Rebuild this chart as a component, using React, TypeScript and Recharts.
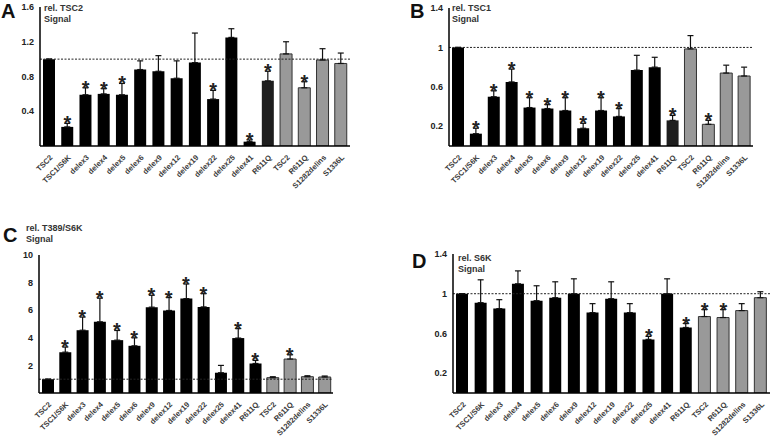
import React from 'react';
import { ComposedChart, Bar, Line, XAxis, YAxis, ReferenceLine, ErrorBar, Cell } from 'recharts';

const CATEGORIES = ['TSC2', 'TSC1/S6K', 'delex3', 'delex4', 'delex5', 'delex6', 'delex9', 'delex12', 'delex19', 'delex22', 'delex25', 'delex41', 'R611Q', 'TSC2', 'R611Q', 'S1282delins', 'S1336L'];

// panel A: rel. TSC2 signal (mean, top of error bar, significance)
const TSC2_MEAN = [1.0, 0.22, 0.59, 0.6, 0.59, 0.88, 0.86, 0.78, 0.96, 0.54, 1.25, 0.05, 0.75, 1.06, 0.67, 0.99, 0.95];
const TSC2_TOP = [1.0, 0.26, 0.67, 0.66, 0.72, 0.98, 1.04, 0.98, 1.3, 0.64, 1.35, 0.07, 0.86, 1.2, 0.74, 1.12, 1.07];
const TSC2_SIG = [0, 1, 1, 1, 1, 0, 0, 0, 0, 1, 0, 1, 1, 0, 1, 0, 0];

// panel B: rel. TSC1 signal
const TSC1_MEAN = [1.0, 0.125, 0.5, 0.65, 0.39, 0.38, 0.36, 0.18, 0.36, 0.3, 0.77, 0.8, 0.26, 0.985, 0.22, 0.74, 0.71];
const TSC1_TOP = [1.0, 0.18, 0.56, 0.78, 0.49, 0.42, 0.49, 0.23, 0.49, 0.38, 0.92, 0.9, 0.31, 1.12, 0.26, 0.82, 0.8];
const TSC1_SIG = [0, 1, 1, 1, 1, 1, 1, 1, 1, 1, 0, 0, 1, 0, 1, 0, 0];

// panel C: rel. T389/S6K signal
const T389_MEAN = [1.0, 2.96, 4.55, 5.16, 3.83, 3.42, 6.22, 5.98, 6.84, 6.24, 1.47, 3.98, 2.14, 1.11, 2.46, 1.18, 1.16];
const T389_TOP = [1.0, 3.33, 5.5, 6.87, 4.53, 4.0, 7.08, 6.92, 7.9, 7.2, 2.0, 4.67, 2.36, 1.18, 2.77, 1.25, 1.23];
const T389_SIG = [0, 1, 1, 1, 1, 1, 1, 1, 1, 1, 0, 1, 1, 0, 1, 0, 0];

// panel D: rel. S6K signal
const S6K_MEAN = [1.0, 0.91, 0.85, 1.1, 0.93, 0.96, 1.0, 0.81, 0.95, 0.81, 0.54, 1.0, 0.66, 0.77, 0.76, 0.83, 0.96];
const S6K_TOP = [1.0, 1.14, 0.94, 1.23, 1.08, 1.12, 1.15, 0.9, 1.12, 0.9, 0.57, 1.15, 0.7, 0.84, 0.84, 0.9, 1.02];
const S6K_SIG = [0, 0, 0, 0, 0, 0, 0, 0, 0, 0, 1, 0, 1, 1, 1, 0, 0];

const FONT = '"Liberation Sans", Arial, sans-serif';

function barFill(i: number, darkR611Q: boolean) {
  if (i >= 13) return '#999999';
  if (i === 12 && darkR611Q) return '#1e1e1e';
  return '#000000';
}

const XTick = (props: any) => {
  const { x, y, payload } = props;
  const tx = x + 4;
  const ty = y + 4;
  return (
    <text x={tx} y={ty} transform={`rotate(-45 ${tx} ${ty})`} textAnchor="end" fontSize={7.6} fontWeight="bold" fill="#3a3a3a" fontFamily={FONT}>
      {payload.value}
    </text>
  );
};

const Star = (props: any) => {
  const { cx, cy, payload, index } = props;
  if (payload.star == null || cy == null) return <g key={`s-${index}`} />;
  return (
    <text key={`s-${index}`} x={cx} y={cy + 7} textAnchor="middle" fontSize={20} fontWeight="bold" fill="#222" fontFamily={FONT}>
      *
    </text>
  );
};

type PanelProps = {
  letter: string;
  title: string;
  mean: number[];
  top: number[];
  sig: number[];
  domainMax: number;
  ticks: number[];
  left: number;
  top0: number;
  width: number;
  height: number;
  margin: { top: number; right: number; bottom: number; left: number };
  yWidth: number;
  darkR611Q: boolean;
  letterPos: [number, number];
  titlePos: [number, number];
};

function Panel(p: PanelProps) {
  const data = CATEGORIES.map((name, i) => ({
    name,
    value: p.mean[i],
    err: [0, Math.max(0, p.top[i] - p.mean[i])],
    star: p.sig[i] ? p.top[i] : null,
  }));
  return (
    <div style={{ position: 'absolute', left: p.left, top: p.top0, width: p.width, height: p.height }}>
      <ComposedChart width={p.width} height={p.height} data={data} margin={p.margin}>
        <XAxis dataKey="name" interval={0} tick={<XTick />} tickLine={false} axisLine={{ stroke: '#000', strokeWidth: 1.5 }} height={50} />
        <YAxis
          domain={[0, p.domainMax]}
          ticks={p.ticks}
          width={p.yWidth}
          tickLine={false}
          tickSize={0}
          tickMargin={6}
          axisLine={{ stroke: '#000', strokeWidth: 1.5 }}
          tick={{ fontSize: 9, fontWeight: 'bold', fill: '#222', fontFamily: FONT }}
          allowDataOverflow
        />
        <ReferenceLine y={1} stroke="#222" strokeDasharray="2 1.5" strokeWidth={1} />
        <Bar dataKey="value" barSize={12} isAnimationActive={false}>
          {data.map((_, i) => (
            <Cell key={`c-${i}`} fill={barFill(i, p.darkR611Q)} stroke={i >= 13 ? '#333' : 'none'} strokeWidth={1} />
          ))}
          <ErrorBar dataKey="err" width={3} stroke="#111" strokeWidth={1.2} />
        </Bar>
        <Line dataKey="star" stroke="none" isAnimationActive={false} dot={<Star />} activeDot={false} connectNulls={false} />
      </ComposedChart>
      <div style={{ position: 'absolute', left: p.letterPos[0], top: p.letterPos[1], fontFamily: FONT, fontWeight: 'bold', fontSize: 20, color: '#111' }}>
        {p.letter}
      </div>
      <div style={{ position: 'absolute', left: p.titlePos[0], top: p.titlePos[1], fontFamily: FONT, fontWeight: 'bold', fontSize: 9, lineHeight: '11px', color: '#333' }}>
        {p.title}
        <br />
        Signal
      </div>
    </div>
  );
}

export default function App() {
  return (
    <div style={{ position: 'absolute', left: 0, top: 0, width: 773, height: 441, background: '#fff', overflow: 'hidden' }}>
      <Panel
        letter="A"
        title="rel. TSC2"
        mean={TSC2_MEAN}
        top={TSC2_TOP}
        sig={TSC2_SIG}
        domainMax={1.6}
        ticks={[0.4, 0.8, 1.2, 1.6]}
        left={0}
        top0={0}
        width={360}
        height={200}
        margin={{ top: 7, right: 10, bottom: 4, left: 10 }}
        yWidth={30}
        darkR611Q
        letterPos={[1, 0]}
        titlePos={[44, 3]}
      />
      <Panel
        letter="B"
        title="rel. TSC1"
        mean={TSC1_MEAN}
        top={TSC1_TOP}
        sig={TSC1_SIG}
        domainMax={1.4}
        ticks={[0.2, 0.6, 1, 1.4]}
        left={390}
        top0={0}
        width={373}
        height={200}
        margin={{ top: 8, right: 10, bottom: 4, left: 20 }}
        yWidth={39}
        darkR611Q
        letterPos={[20, 0]}
        titlePos={[62, 3]}
      />
      <Panel
        letter="C"
        title="rel. T389/S6K"
        mean={T389_MEAN}
        top={T389_TOP}
        sig={T389_SIG}
        domainMax={10}
        ticks={[2, 4, 6, 8, 10]}
        left={0}
        top0={220}
        width={343}
        height={221}
        margin={{ top: 35, right: 10, bottom: -2, left: 9 }}
        yWidth={30}
        darkR611Q={false}
        letterPos={[3, 4]}
        titlePos={[26, 3]}
      />
      <Panel
        letter="D"
        title="rel. S6K"
        mean={S6K_MEAN}
        top={S6K_TOP}
        sig={S6K_SIG}
        domainMax={1.4}
        ticks={[0.2, 0.6, 1, 1.4]}
        left={390}
        top0={220}
        width={383}
        height={221}
        margin={{ top: 34, right: 3, bottom: -2, left: 24 }}
        yWidth={39}
        darkR611Q={false}
        letterPos={[22, 30]}
        titlePos={[68, 33]}
      />
    </div>
  );
}
